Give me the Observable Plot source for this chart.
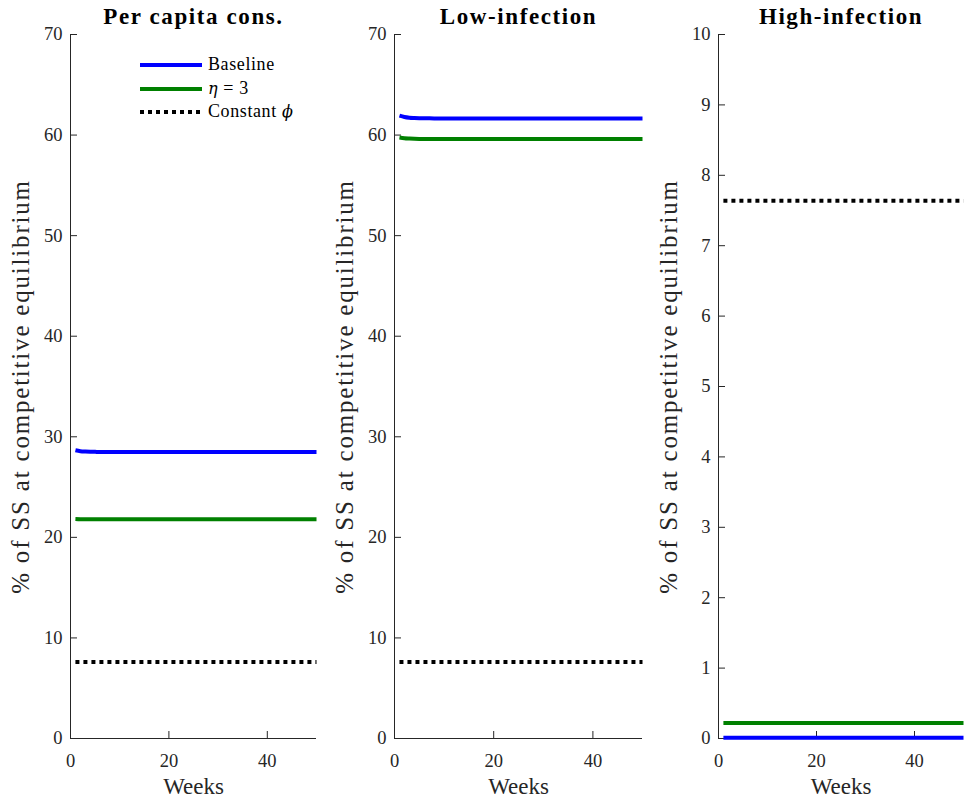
<!DOCTYPE html>
<html>
<head>
<meta charset="utf-8">
<script src="https://cdn.jsdelivr.net/npm/d3@7"></script>
<script src="https://cdn.jsdelivr.net/npm/@observablehq/plot@0.6"></script>
<style>
  html, body { margin: 0; padding: 0; background: #fff; }
  #chart { position: relative; width: 965px; height: 798px; font-family: "Liberation Serif", "DejaVu Serif", serif; color: #262626; }
  #chart svg.panel { position: absolute; top: 0; overflow: visible; }
  .legend { position: absolute; left: 140px; top: 53px; font-size: 18px; color: #000; }
  .legend .row { position: relative; height: 23.5px; }
  .legend .swatch { position: absolute; left: 0; top: 10px; }
  .legend .name { position: absolute; left: 68px; top: 0; line-height: 23px; white-space: nowrap; letter-spacing: 0.6px; }
  .legend i { font-family: "DejaVu Serif", serif; font-size: 16px; }
</style>
</head>
<body>
<div id="chart"></div>
<script>
// Weeks at which each path is sampled
const weeks = [1, 2, 3, 4, 5, 6, 8, 10, 15, 20, 30, 40, 50];

// Per capita consumption, % of steady state
const perCapitaBaseline = [28.66, 28.57, 28.53, 28.51, 28.50, 28.49, 28.49, 28.48, 28.48, 28.48, 28.48, 28.48, 28.48];
const perCapitaEta3     = [21.83, 21.81, 21.80, 21.80, 21.80, 21.80, 21.80, 21.80, 21.80, 21.80, 21.80, 21.80, 21.80];
const perCapitaConstPhi = [7.60, 7.60, 7.60, 7.60, 7.60, 7.60, 7.60, 7.60, 7.60, 7.60, 7.60, 7.60, 7.60];

// Low-infection types
const lowBaseline = [61.93, 61.80, 61.73, 61.70, 61.68, 61.67, 61.66, 61.65, 61.65, 61.65, 61.65, 61.65, 61.65];
const lowEta3     = [59.75, 59.68, 59.65, 59.63, 59.62, 59.62, 59.62, 59.62, 59.62, 59.62, 59.62, 59.62, 59.62];
const lowConstPhi = [7.60, 7.60, 7.60, 7.60, 7.60, 7.60, 7.60, 7.60, 7.60, 7.60, 7.60, 7.60, 7.60];

// High-infection types
const highBaseline = [0.01, 0.01, 0.01, 0.01, 0.01, 0.01, 0.01, 0.01, 0.01, 0.01, 0.01, 0.01, 0.01];
const highEta3     = [0.22, 0.22, 0.22, 0.22, 0.22, 0.22, 0.22, 0.22, 0.22, 0.22, 0.22, 0.22, 0.22];
const highConstPhi = [7.64, 7.64, 7.64, 7.64, 7.64, 7.64, 7.64, 7.64, 7.64, 7.64, 7.64, 7.64, 7.64];

// Text
const panelTitles = ["Per capita cons.", "Low-infection", "High-infection"];
const seriesNames = ["Baseline", "η = 3", "Constant ϕ"];
const yLabel = "% of SS at competitive equilibrium";
const xLabel = "Weeks";

// Ticks
const xTicks = [0, 20, 40];
const yTicksWide = [0, 10, 20, 30, 40, 50, 60, 70];
const yTicksNarrow = [0, 1, 2, 3, 4, 5, 6, 7, 8, 9, 10];

// Series styling
const seriesStyles = [
  {stroke: "#0000ff", dash: null},
  {stroke: "#008000", dash: null},
  {stroke: "#000000", dash: "4,4"}
];

const panels = [
  {title: panelTitles[0], series: [perCapitaBaseline, perCapitaEta3, perCapitaConstPhi], yMax: 70, yTicks: yTicksWide,
   left: 0, width: 322, marginLeft: 70, marginRight: 6},
  {title: panelTitles[1], series: [lowBaseline, lowEta3, lowConstPhi], yMax: 70, yTicks: yTicksWide,
   left: 322, width: 324, marginLeft: 72, marginRight: 4},
  {title: panelTitles[2], series: [highBaseline, highEta3, highConstPhi], yMax: 10, yTicks: yTicksNarrow,
   left: 646, width: 319, marginLeft: 72, marginRight: 2}
];

const font = '"Liberation Serif", "DejaVu Serif", serif';
const ink = "#262626";
const plain = d => `${d}`;
const chart = document.getElementById("chart");

for (const p of panels) {
  const lineMarks = p.series.map((values, i) => {
    const rows = weeks.map((w, j) => ({week: w, value: values[j]}));
    const s = seriesStyles[i];
    return Plot.line(rows, {
      x: "week", y: "value",
      stroke: s.stroke, strokeWidth: 4,
      strokeDasharray: s.dash ?? undefined,
      strokeLinecap: "butt",
      strokeLinejoin: "round",
      curve: "monotone-x"
    });
  });

  const svg = Plot.plot({
    className: "panel",
    width: p.width, height: 798,
    marginTop: 34, marginBottom: 60,
    marginLeft: p.marginLeft, marginRight: p.marginRight,
    x: {domain: [0, 50]},
    y: {domain: [0, p.yMax]},
    style: {fontFamily: font, fontSize: "18.5px", color: ink, background: "transparent"},
    marks: [
      Plot.axisX(xTicks, {tickSize: -7, tickPadding: 22, tickFormat: plain, label: null, stroke: ink, fill: ink, fontSize: 18.5, fontFamily: font}),
      Plot.axisY(p.yTicks, {tickSize: -7, tickPadding: 15, tickFormat: plain, label: null, stroke: ink, fill: ink, fontSize: 18.5, fontFamily: font}),
      Plot.ruleX([0], {stroke: ink, strokeWidth: 1}),
      Plot.ruleY([0], {stroke: ink, strokeWidth: 1}),
      ...lineMarks,
      Plot.text([p.title], {frameAnchor: "top", dy: -11, lineAnchor: "bottom", fontWeight: "bold", fontSize: 23, fontFamily: font, fill: "#000"}),
      Plot.text([yLabel], {frameAnchor: "left", dx: -50, rotate: -90, textAnchor: "middle", lineAnchor: "middle", fontSize: 25, fontFamily: font, fill: ink}),
      Plot.text([xLabel], {frameAnchor: "bottom", dy: 55, lineAnchor: "bottom", fontSize: 23, fontFamily: font, fill: ink})
    ]
  });

  // Wider tracking for the title and the vertical axis title
  const spacing = new Map([[p.title, "1.6px"], [yLabel, "1.8px"]]);
  d3.select(svg).selectAll("text")
    .filter(function () { return spacing.has(this.textContent); })
    .style("letter-spacing", function () { return spacing.get(this.textContent); });

  svg.style.left = p.left + "px";
  chart.appendChild(svg);
}

// Legend inside the first panel
const legend = d3.select(chart).append("div").attr("class", "legend");
seriesNames.forEach((name, i) => {
  const row = legend.append("div").attr("class", "row");
  const sw = row.append("svg").attr("class", "swatch").attr("width", 62).attr("height", 4);
  sw.append("line").attr("x1", 0).attr("x2", 62).attr("y1", 2).attr("y2", 2)
    .attr("stroke", seriesStyles[i].stroke).attr("stroke-width", 4)
    .attr("stroke-dasharray", seriesStyles[i].dash);
  const label = row.append("span").attr("class", "name");
  // Greek symbols set in italic, as in math mode
  name.split(/([ηϕ])/).forEach(part => {
    if (!part) return;
    if (/[ηϕ]/.test(part)) label.append("i").text(part);
    else label.append("span").text(part);
  });
});
</script>
</body>
</html>
